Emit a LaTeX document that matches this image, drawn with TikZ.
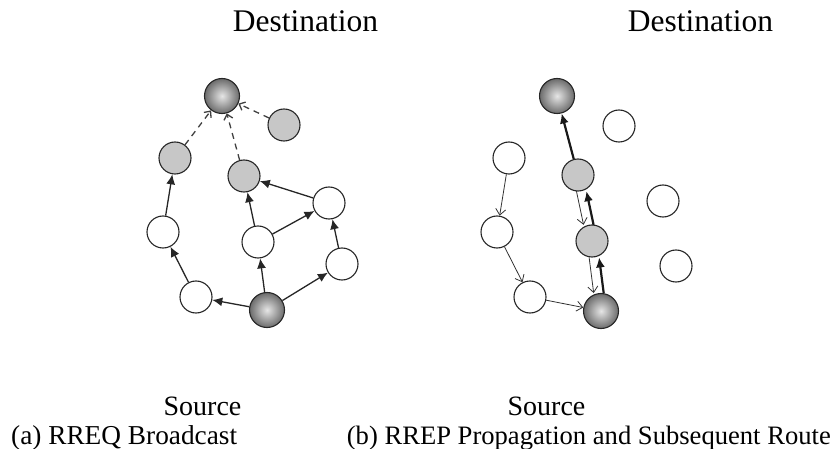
\documentclass[tikz,border=0pt]{standalone}
\usepackage{fontspec}
\setmainfont{Liberation Serif}
\usetikzlibrary{arrows.meta}
\begin{document}
\begin{tikzpicture}[x=1pt,y=-1pt,
  wnode/.style={circle,draw=black!85,line width=1.1pt,fill=white,minimum size=32pt,inner sep=0pt},
  gnode/.style={wnode,fill=black!22},
  dnode/.style={circle,draw=black!85,line width=1.1pt,minimum size=35pt,inner sep=0pt,inner color=black!10,outer color=black!58},
  farrow/.style={line width=1.3pt,draw=black!85,-{Latex[length=10pt,width=9pt]}},
  darrow/.style={line width=1.3pt,draw=black!75,dash pattern=on 6pt off 5pt,-{Straight Barb[length=5pt,width=9pt]}},
  tarrow/.style={line width=0.8pt,draw=black!80,-{Straight Barb[length=6pt,width=10pt]}},
  karrow/.style={line width=2.2pt,draw=black!90,-{Latex[length=10pt,width=9pt]}},
  lbl/.style={inner sep=0pt,font=\fontsize{26.6}{30}\selectfont}
]
\useasboundingbox (0,0) rectangle (833,449);
% left panel
\node[dnode] (D1) at (222,96) {};
\node[gnode] (G1) at (284,125) {};
\node[gnode] (G2) at (175,158) {};
\node[gnode] (G3) at (244,176) {};
\node[wnode] (W1) at (329,203) {};
\node[wnode] (W2) at (163,232) {};
\node[wnode] (W3) at (258,242) {};
\node[wnode] (W4) at (342,264) {};
\node[wnode] (W5) at (196,297) {};
\node[dnode] (S1) at (267,310) {};
\draw[farrow] (S1) -- (W5);
\draw[farrow] (W5) -- (W2);
\draw[farrow] (W2) -- (G2);
\draw[farrow] (S1) -- (W3);
\draw[farrow] (W3) -- (G3);
\draw[farrow] (W3) -- (W1);
\draw[farrow] (W1) -- (G3);
\draw[farrow] (S1) -- (W4);
\draw[farrow] (W4) -- (W1);
\draw[darrow] (G2) -- (D1);
\draw[darrow] (G3) -- (D1);
\draw[darrow] (G1) -- (D1);
% right panel
\node[dnode] (D2) at (557,96) {};
\node[wnode] (R1) at (619,126) {};
\node[wnode] (R2) at (509,158) {};
\node[gnode] (H1) at (578,175) {};
\node[wnode] (R3) at (663,201) {};
\node[wnode] (R4) at (497,232) {};
\node[gnode] (H2) at (592,241) {};
\node[wnode] (R5) at (676,266) {};
\node[wnode] (R6) at (530,297) {};
\node[dnode] (S2) at (601,311) {};
\draw[tarrow] (R2) -- (R4);
\draw[tarrow] (R4) -- (R6);
\draw[tarrow] (R6) -- (S2);
\draw[tarrow,transform canvas={xshift=-5pt}] (H1) -- (H2);
\draw[tarrow,transform canvas={xshift=-5pt}] (H2) -- (S2);
\draw[karrow,transform canvas={xshift=5pt}] (S2) -- (H2);
\draw[karrow,transform canvas={xshift=5pt}] (H2) -- (H1);
\draw[karrow] (H1) -- (D2);
% labels
\node[lbl,anchor=base,font=\fontsize{31.5}{34}\selectfont] (T1) at (305.5,32) {Destination};
\node[lbl,anchor=base,font=\fontsize{31.5}{34}\selectfont] (T2) at (700.5,32) {Destination};
\node[lbl,anchor=base,font=\fontsize{28}{30}\selectfont] (U1) at (202.5,415) {Source};
\node[lbl,anchor=base,font=\fontsize{28}{30}\selectfont] (U2) at (546.5,415) {Source};
\node[lbl,anchor=base west,font=\fontsize{27.3}{30}\selectfont] (C1) at (11,444) {(a) RREQ Broadcast};
\node[lbl,anchor=base east] (C2) at (831,444) {(b) RREP Propagation and Subsequent Route};
\end{tikzpicture}
\end{document}
